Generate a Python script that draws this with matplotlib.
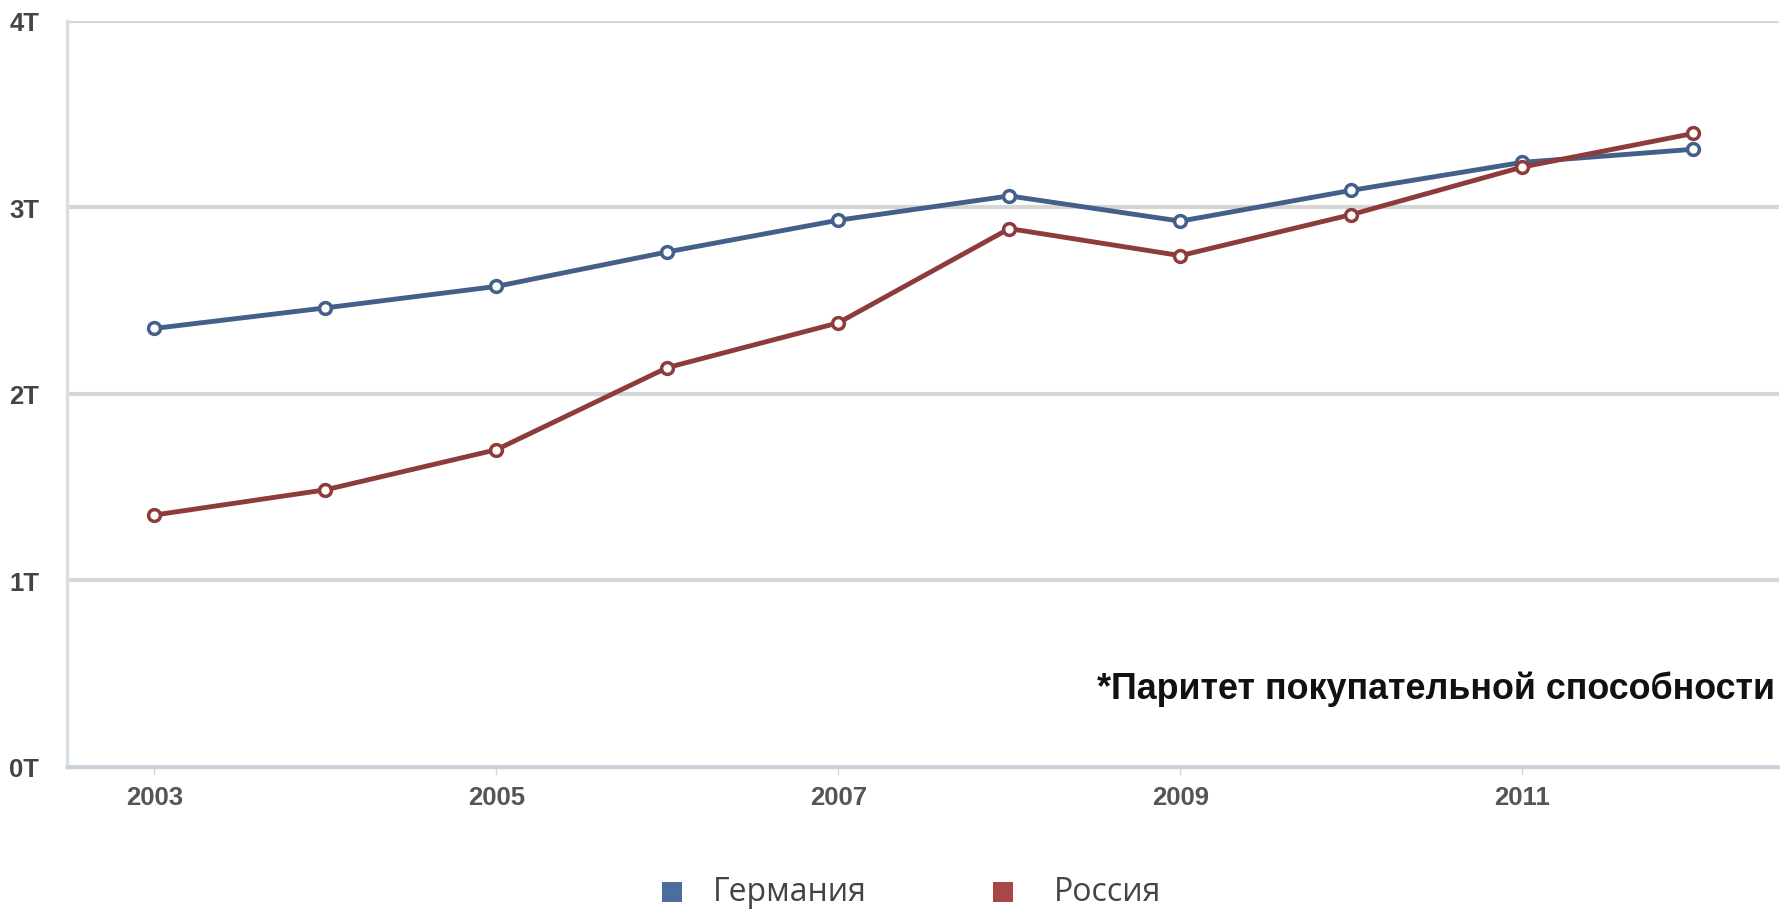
import matplotlib
matplotlib.use("Agg")
import matplotlib.pyplot as plt
from matplotlib.patches import Rectangle

years = [2003, 2004, 2005, 2006, 2007, 2008, 2009, 2010, 2011, 2012]
germany = [2.35, 2.46, 2.575, 2.76, 2.93, 3.06, 2.925, 3.09, 3.24, 3.31]
russia = [1.35, 1.485, 1.70, 2.14, 2.38, 2.885, 2.74, 2.96, 3.215, 3.395]
series_names = ["Германия", "Россия"]
xtick_years = [2003, 2005, 2007, 2009, 2011]
ytick_vals = [0, 1, 2, 3, 4]
ytick_labels = ["0T", "1T", "2T", "3T", "4T"]
note = "*Паритет покупательной способности"

W, H = 1781, 912
fig = plt.figure(figsize=(W / 100, H / 100), dpi=100)
fig.patch.set_facecolor("white")

left, right, top, bottom = 67, 1779, 21.5, 768
ax = fig.add_axes([left / W, 1 - bottom / H, (right - left) / W, (bottom - top) / H])

c_de = "#42608a"
c_ru = "#8e3b3b"

ax.plot(years, germany, color=c_de, lw=3.5, marker="o", ms=8.5, mfc="white",
        mec=c_de, mew=2.5, zorder=4, solid_joinstyle="round")
ax.plot(years, russia, color=c_ru, lw=3.5, marker="o", ms=8.5, mfc="white",
        mec=c_ru, mew=2.5, zorder=5, solid_joinstyle="round")

ax.set_xlim(2002.49, 2012.5)
ax.set_ylim(0, 4)
ax.set_yticks(ytick_vals)
ax.set_yticklabels(ytick_labels)
ax.set_xticks(xtick_years)
ax.set_xticklabels([str(y) for y in xtick_years])

ax.grid(axis="y", color="#d6d6d6", lw=3)
ax.set_axisbelow(True)
for s in ["top", "right"]:
    ax.spines[s].set_visible(False)
ax.spines["left"].set_color("#d8dee8")
ax.spines["left"].set_linewidth(2.5)
ax.spines["bottom"].set_color("#c9d0dc")
ax.spines["bottom"].set_linewidth(2.5)
ax.spines["bottom"].set_zorder(3)

ax.tick_params(axis="y", length=0, pad=20, labelsize=18.5, labelcolor="#444444")
ax.tick_params(axis="x", length=6, width=1, color="#d0d6e0", pad=7,
               labelsize=18.5, labelcolor="#555555")
for lab in ax.get_yticklabels() + ax.get_xticklabels():
    lab.set_family("Liberation Sans")
    lab.set_fontweight("bold")

fig.text(1775 / W, 1 - 689 / H, note, ha="right", va="center",
         fontsize=25.8, fontweight="bold", color="#111111",
         family=["Liberation Sans Narrow", "Liberation Sans", "DejaVu Sans"])

# legend
sq = 20
for cx, col, name, tx in [(672, "#4a6f9f", series_names[0], 713),
                          (1003, "#a84747", series_names[1], 1054)]:
    fig.add_artist(Rectangle(((cx - sq / 2) / W, 1 - (893 + sq / 2) / H),
                             sq / W, sq / H, transform=fig.transFigure,
                             facecolor=col, edgecolor="none"))
    fig.text(tx / W, 1 - 893 / H, name, ha="left", va="center",
             fontsize=23, color="#444444", family=["Open Sans", "DejaVu Sans"])

fig.savefig("out.png", dpi=100, facecolor="white")
